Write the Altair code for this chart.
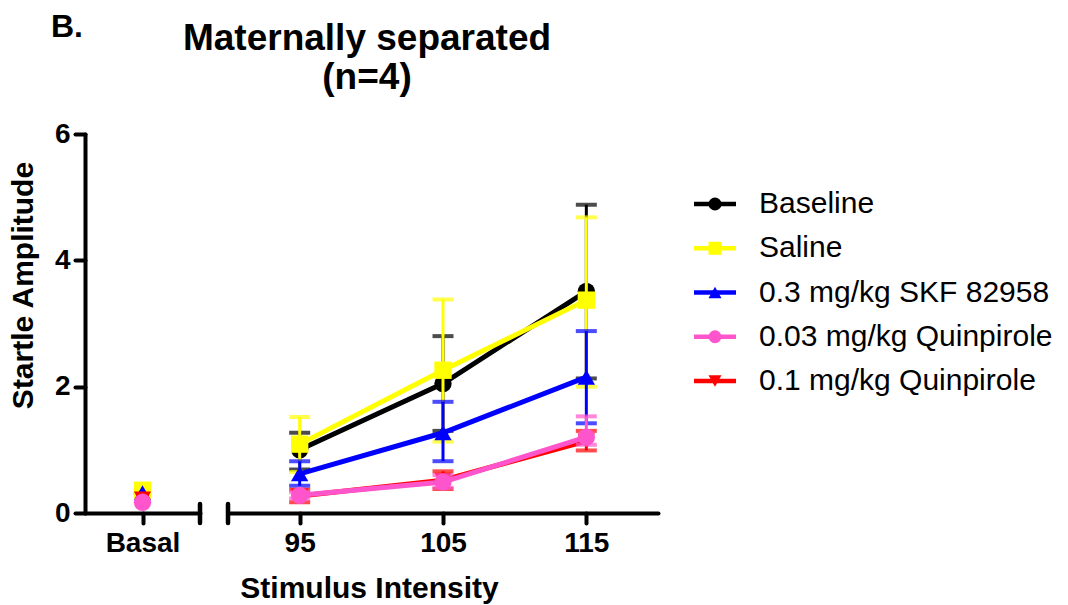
import altair as alt
import pandas as pd

panel_label = ["B."]
title_lines = ["Maternally separated", "(n=4)"]
x_title = "Stimulus Intensity"
y_title = "Startle Amplitude"
basal_label = "Basal"

series = ["Baseline", "Saline", "0.3 mg/kg SKF 82958",
          "0.03 mg/kg Quinpirole", "0.1 mg/kg Quinpirole"]
colors = ["#000000", "#FFFF00", "#0000FF", "#FF55CC", "#FF0000"]
shapes = ["circle", "square", "triangle-up", "circle", "triangle-down"]
draw_order = ["Baseline", "Saline", "0.3 mg/kg SKF 82958",
              "0.1 mg/kg Quinpirole", "0.03 mg/kg Quinpirole"]

intensity = [95, 105, 115]
y_ticks = [0, 2, 4, 6]

baseline_mean = [1.00, 2.05, 3.51]
baseline_hi = [1.27, 2.80, 4.88]
baseline_lo = [0.69, 1.30, 2.13]

saline_mean = [1.09, 2.26, 3.37]
saline_hi = [1.52, 3.38, 4.68]
saline_lo = [0.65, 1.13, 2.00]

skf_mean = [0.62, 1.27, 2.15]
skf_hi = [0.82, 1.76, 2.88]
skf_lo = [0.43, 0.82, 1.42]

q003_mean = [0.28, 0.49, 1.20]
q003_hi = [0.33, 0.60, 1.53]
q003_lo = [0.23, 0.40, 1.08]

q01_mean = [0.27, 0.52, 1.14]
q01_hi = [0.37, 0.66, 1.30]
q01_lo = [0.17, 0.38, 0.99]

basal_mean = [0.30, 0.36, 0.32, 0.17, 0.22]

FONT = "Liberation Sans"

rows = []
for name, m, hi, lo in zip(
        series,
        [baseline_mean, saline_mean, skf_mean, q003_mean, q01_mean],
        [baseline_hi, saline_hi, skf_hi, q003_hi, q01_hi],
        [baseline_lo, saline_lo, skf_lo, q003_lo, q01_lo]):
    for xv, a, b, c in zip(intensity, m, hi, lo):
        rows.append({"series": name, "x": xv, "mean": a, "hi": b, "lo": c})
df = pd.DataFrame(rows)
df_basal = pd.DataFrame({"series": series, "cat": [basal_label] * len(series),
                         "mean": basal_mean})
df_legend = pd.DataFrame({"series": series})
df_one = pd.DataFrame({"c": [0]})
df_title1 = pd.DataFrame({"t": [title_lines[0]]})
df_title2 = pd.DataFrame({"t": [title_lines[1]]})
df_label = pd.DataFrame({"t": panel_label})

H = 379
WL = 115
WR = 430
WLEG = 370
MSIZE = 300
LW = 5

color = alt.Color("series:N", scale=alt.Scale(domain=series, range=colors), legend=None)
shape = alt.Shape("series:N", scale=alt.Scale(domain=series, range=shapes), legend=None)
yscale = alt.Scale(domain=[0, 6], nice=False, zero=True)

# ---------------- right panel (95 / 105 / 115) ----------------
xr = alt.X("x:Q", scale=alt.Scale(domain=[90, 120], nice=False, zero=False),
           axis=alt.Axis(values=intensity, title=x_title, titleX=141, titleY=84,
                         titleBaseline="alphabetic", labelPadding=6,
                         domainCap="round", tickCap="round"))
yr = alt.Y("mean:Q", scale=yscale, axis=None)

right_layers = []
for s in draw_order:
    base = alt.Chart(df).transform_filter(alt.datum.series == s)
    right_layers.append(base.mark_rule(strokeWidth=3).encode(
        x=xr, y=alt.Y("lo:Q", scale=yscale, axis=None), y2="hi:Q", color=color))
    right_layers.append(base.mark_tick(orient="horizontal", size=21, thickness=4).encode(
        x=xr, y=alt.Y("hi:Q", scale=yscale, axis=None), color=color))
    right_layers.append(base.mark_tick(orient="horizontal", size=21, thickness=4).encode(
        x=xr, y=alt.Y("lo:Q", scale=yscale, axis=None), color=color))
    right_layers.append(base.mark_line(strokeWidth=LW).encode(
        x=xr, y=yr, color=color))
    right_layers.append(base.mark_point(filled=True, size=MSIZE, opacity=1).encode(
        x=xr, y=yr, color=color, shape=shape))

right_cap = alt.Chart(df_one).mark_rule(strokeWidth=4.5, strokeCap="round", color="black").encode(
    x=alt.value(0), y=alt.value(H - 9), y2=alt.value(H + 10))
title1 = alt.Chart(df_title1).mark_text(font=FONT, fontSize=37, fontWeight="bold",
                                         align="center", baseline="alphabetic").encode(
    text="t:N", x=alt.value(139), y=alt.value(-84))
title2 = alt.Chart(df_title2).mark_text(font=FONT, fontSize=37, fontWeight="bold",
                                         align="center", baseline="alphabetic").encode(
    text="t:N", x=alt.value(139), y=alt.value(-45))

right = alt.layer(*right_layers, right_cap, title1, title2).properties(width=WR, height=H)

# ---------------- left panel (Basal) ----------------
xl = alt.X("cat:N", scale=alt.Scale(type="point", padding=0.5),
           axis=alt.Axis(title=None, labelAngle=0, labelPadding=6,
                         domainCap="round", tickCap="round"))
yl = alt.Y("mean:Q", scale=yscale,
           axis=alt.Axis(values=y_ticks, title=y_title, labelPadding=5,
                         titlePadding=16, titleY=151,
                         domainCap="round", tickCap="round"))
left_layers = []
for s in draw_order:
    left_layers.append(alt.Chart(df_basal).transform_filter(alt.datum.series == s)
                       .mark_point(filled=True, size=MSIZE, opacity=1)
                       .encode(x=xl, y=yl, color=color, shape=shape))
left_cap = alt.Chart(df_one).mark_rule(strokeWidth=4.5, strokeCap="round", color="black").encode(
    x=alt.value(WL), y=alt.value(H - 9), y2=alt.value(H + 10))
label_b = alt.Chart(df_label).mark_text(font=FONT, fontSize=32, fontWeight="bold",
                                        align="left", baseline="alphabetic").encode(
    text="t:N", x=alt.value(-34), y=alt.value(-97))
left = alt.layer(*left_layers, left_cap, label_b).properties(width=WL, height=H)

# ---------------- legend panel ----------------
yleg = alt.Y("series:N", sort=series,
             scale=alt.Scale(type="point", domain=series, range=[70, 247], padding=0),
             axis=None)
leg_base = alt.Chart(df_legend)
leg_line = leg_base.mark_rule(strokeWidth=4.5).encode(
    x=alt.value(8), x2=alt.value(50), y=yleg, color=color)
leg_pt = leg_base.mark_point(filled=True, size=170, opacity=1).encode(
    x=alt.value(29), y=yleg, color=color, shape=shape)
leg_txt = leg_base.mark_text(font=FONT, fontSize=30, align="left", baseline="middle",
                             color="black").encode(
    x=alt.value(73), y=yleg, text="series:N")
legend = alt.layer(leg_line, leg_pt, leg_txt).properties(width=WLEG, height=H)

chart = alt.hconcat(left, right, legend, spacing=28, bounds="flush").properties(
    padding={"left": 8, "top": 11, "right": 5, "bottom": 5}
).configure_view(stroke=None).configure_axis(
    labelFont=FONT, labelFontSize=28, labelFontWeight="bold", labelColor="black",
    titleFont=FONT, titleFontSize=30, titleFontWeight="bold", titleColor="black",
    domainColor="black", domainWidth=4, tickColor="black", tickWidth=4, tickSize=10,
    grid=False
)

chart.save("out.html", embed_options={"renderer": "svg", "actions": False})
